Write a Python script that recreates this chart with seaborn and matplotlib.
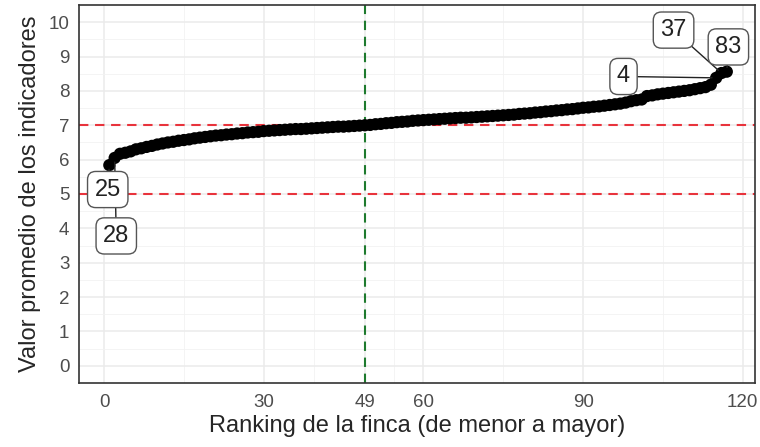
import numpy as np
import pandas as pd
import matplotlib
matplotlib.use("Agg")
import matplotlib.pyplot as plt
import seaborn as sns

# -----------------------------
# Data
# -----------------------------
rank = list(range(1, 118))
valor = [
    5.84, 6.05, 6.17, 6.20, 6.24, 6.30, 6.33, 6.37, 6.40, 6.44,
    6.47, 6.50, 6.52, 6.55, 6.57, 6.59, 6.62, 6.64, 6.66, 6.68,
    6.70, 6.71, 6.73, 6.74, 6.76, 6.77, 6.79, 6.80, 6.81, 6.83,
    6.84, 6.85, 6.86, 6.87, 6.88, 6.89, 6.89, 6.90, 6.91, 6.92,
    6.93, 6.94, 6.95, 6.96, 6.96, 6.97, 6.98, 6.99, 7.00, 7.01,
    7.03, 7.04, 7.06, 7.07, 7.09, 7.10, 7.11, 7.13, 7.14, 7.15,
    7.16, 7.17, 7.18, 7.19, 7.20, 7.21, 7.22, 7.22, 7.23, 7.24,
    7.25, 7.26, 7.27, 7.28, 7.29, 7.30, 7.31, 7.33, 7.34, 7.35,
    7.37, 7.38, 7.40, 7.41, 7.43, 7.44, 7.46, 7.47, 7.49, 7.51,
    7.52, 7.54, 7.55, 7.57, 7.59, 7.61, 7.63, 7.66, 7.70, 7.73,
    7.75, 7.85, 7.87, 7.90, 7.92, 7.94, 7.96, 7.98, 8.00, 8.02,
    8.05, 8.08, 8.11, 8.18, 8.38, 8.52, 8.56,
]

# labelled farms: id, rank of the point, label position (data units)
# (25 last so its box sits on top of the 28 segment)
label_ids = ["28", "4", "37", "83", "25"]
label_rank = [2, 115, 116, 117, 1]
label_x = [2.3, 97.6, 107.0, 117.3, 0.7]
label_y = [3.78, 8.42, 9.77, 9.28, 5.13]

x_breaks = [0, 30, 49, 60, 90, 120]
x_minor = [15, 39.5, 54.5, 75, 105]
y_breaks = list(range(0, 11))
y_minor = [v + 0.5 for v in range(0, 10)]

hlines = [5, 7]
vline = 49

df = pd.DataFrame({"rank": rank, "valor": valor})

# -----------------------------
# Plot
# -----------------------------
sns.set_style("white")
plt.rcParams["font.family"] = ["Liberation Sans", "DejaVu Sans"]

fig = plt.figure(figsize=(7.6, 4.47), dpi=100)
ax = fig.add_axes([79 / 760, 1 - 383 / 447, (755 - 79) / 760, (383 - 5) / 447])

# grid like theme_bw
ax.set_xticks(x_breaks)
ax.set_xticks(x_minor, minor=True)
ax.set_yticks(y_breaks)
ax.set_yticks(y_minor, minor=True)
ax.grid(True, which="major", color="#EBEBEB", lw=1.1, zorder=0)
ax.grid(True, which="minor", color="#F2F2F2", lw=0.6, zorder=0)
ax.set_axisbelow(True)

for h in hlines:
    ax.axhline(h, color="#E8333C", lw=1.5, ls=(0, (4.5, 3.2)), zorder=1)
ax.axvline(vline, color="#1E7A2E", lw=1.5, ls=(0, (4.5, 3.2)), zorder=1)

sns.scatterplot(data=df, x="rank", y="valor", color="black", s=78,
                edgecolor="none", linewidth=0, ax=ax, zorder=3, legend=False)

for i, (lab, r, lx, ly) in enumerate(zip(label_ids, label_rank, label_x, label_y)):
    px, py = rank[r - 1], valor[r - 1]
    ax.annotate(
        lab, xy=(px, py), xytext=(lx, ly), textcoords="data",
        ha="center", va="center", fontsize=17, color="#222222", zorder=5 + i,
        bbox=dict(boxstyle="round,pad=0.3,rounding_size=0.35", fc="white",
                  ec="#555555", lw=1.0),
        arrowprops=dict(arrowstyle="-", color="#222222", lw=1.0,
                        shrinkA=0, shrinkB=3),
    )

ax.set_xlim(-4.7, 122.3)
ax.set_ylim(-0.5, 10.5)

ax.tick_params(axis="both", which="major", length=4, width=1.0,
               color="#333333", labelsize=13.5, labelcolor="#4D4D4D",
               direction="out", pad=3)
ax.tick_params(axis="both", which="minor", length=0)
ax.tick_params(axis="x", pad=4)

for sp in ax.spines.values():
    sp.set_visible(True)
    sp.set_color("#333333")
    sp.set_linewidth(1.2)

ax.set_xlabel("Ranking de la finca (de menor a mayor)", fontsize=17, labelpad=3)
ax.set_ylabel("Valor promedio de los indicadores", fontsize=17, labelpad=5)

plt.savefig("out.png", dpi=100)
